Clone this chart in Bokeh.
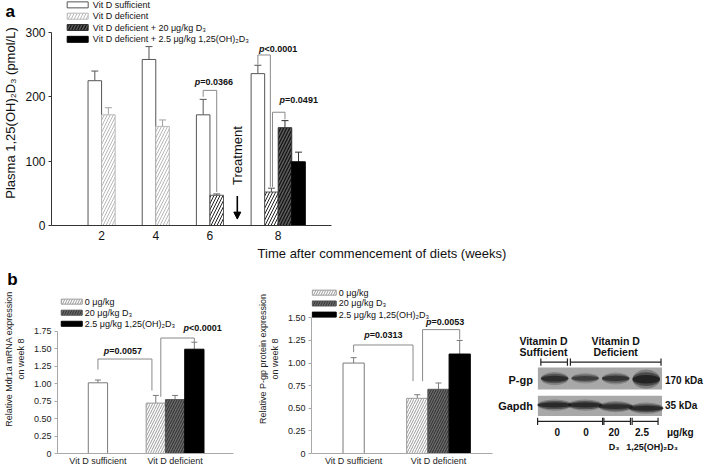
import math
from bokeh.plotting import figure
from bokeh.layouts import column, row
from bokeh.models import (Range1d, FixedTicker, Whisker, TeeHead, Arrow, NormalHead,
                          ColumnDataSource, GridBox)
from bokeh.core.properties import value
from bokeh.embed import file_html
from bokeh.resources import INLINE

# ------------------------------------------------------------------ data
# panel a : plasma 1,25(OH)2D3 (pmol/L) by week
week_labels = ["2", "4", "6", "8"]
series_a = ["Vit D sufficient", "Vit D deficient",
            "Vit D deficient + 20 \u03bcg/kg  D\u2083",
            "Vit D deficient + 2.5 \u03bcg/kg 1,25(OH)\u2082D\u2083"]
suff_a = [225, 258, 172, 236]
suff_a_err = [15, 20, 24, 13]
def_a = [172, 154, 47, 52]
def_a_err = [11, 10, 2, 6]
d3_a = [152]            # week 8 only
d3_a_err = [11]
calc_a = [99]           # week 8 only
calc_a_err = [15]
yticks_a = [0, 100, 200, 300]
pvals_a = ["=0.0366", "<0.0001", "=0.0491"]
brk_a_top = [210, 265, 176]
brk_a_left = [200, 250, 60]
brk_a_right = [52, 60, 165]

# panel b : week 8 expression
groups_b = ["Vit D sufficient", "Vit D deficient"]
series_b = ["0 \u03bcg/kg", "20 \u03bcg/kg D\u2083", "2.5 \u03bcg/kg 1,25(OH)\u2082D\u2083"]
mdr_suff = [1.01]
mdr_suff_err = [0.04]
mdr_def = [0.72, 0.77, 1.49]
mdr_def_err = [0.11, 0.06, 0.10]
yticks_mdr = [0, 0.25, 0.5, 0.75, 1.0, 1.25, 1.5, 1.75]
pvals_mdr = ["=0.0057", "<0.0001"]
brk_mdr_top = [1.35, 1.65]
brk_mdr_left = [1.20, 0.81]
brk_mdr_right = [0.90, 1.57]

pgp_suff = [1.00]
pgp_suff_err = [0.06]
pgp_def = [0.61, 0.71, 1.10]
pgp_def_err = [0.04, 0.07, 0.15]
yticks_pgp = [0, 0.25, 0.5, 0.75, 1.0, 1.25, 1.5]
pvals_pgp = ["=0.0313", "=0.0053"]
brk_pgp_top = [1.20, 1.37]
brk_pgp_left = [1.12, 0.80]
brk_pgp_right = [0.80, 1.26]

# western blot
lane_labels = ["0", "0", "20", "2.5"]
pgp_band = [0.80, 0.62, 0.72, 0.95]
pgp_thick = [1.0, 0.8, 0.9, 1.45]
gapdh_band = [0.85, 0.85, 0.80, 0.85]

panel_letters = ["a", "b"]

# ------------------------------------------------------------------ layout
FONT = "Liberation Sans"
S = 0.985
W_TOTAL, H_TOTAL = 712, 468
HA = 264
HB = H_TOTAL - HA
W1, W2 = 254, 243
W3 = W_TOTAL - W1 - W2

BOLD_W = {c: 0.556 for c in "0123456789"}
BOLD_W.update({"=": 0.584, "<": 0.584, ".": 0.278})


def base_fig(width, height, xr, yr, left, bottom):
    p = figure(width=width, height=height, x_range=xr, y_range=yr,
               output_backend="svg", toolbar_location=None,
               min_border_left=left, min_border_bottom=bottom,
               min_border_top=0, min_border_right=0)
    p.outline_line_color = None
    p.xgrid.visible = False
    p.ygrid.visible = False
    p.background_fill_color = "white"
    p.border_fill_color = "white"
    return p


def style_axis(ax, color, lab_color, size, tick_out):
    ax.axis_line_color = color
    ax.major_tick_line_color = color
    ax.major_tick_out = tick_out
    ax.major_tick_in = 0
    ax.minor_tick_line_color = None
    ax.major_label_text_font = FONT
    ax.major_label_text_font_size = size
    ax.major_label_text_color = lab_color
    ax.axis_label_text_font = FONT
    ax.axis_label_text_font_style = "normal"
    ax.axis_label_text_color = lab_color


def p_label(p, x, y, rest, size, dx=0, dy=0, color="#111111"):
    wp = 0.611 * size
    wr = sum(BOLD_W.get(c, 0.556) for c in rest) * size
    shift = dx - (wr - wp) / 2
    common = dict(text_baseline="middle", text_font=value(FONT),
                  text_font_size=f"{size}px", text_color=color,
                  x_offset=shift, y_offset=dy)
    p.text(x=[x], y=[y], text=["p"], text_align="right",
           text_font_style="bold italic", **common)
    p.text(x=[x], y=[y], text=[rest], text_align="left",
           text_font_style="bold", **common)


def add_whisker(p, xs, tops, errs, color, cap=7):
    src = ColumnDataSource(dict(base=xs, lower=tops,
                                upper=[t + e for t, e in zip(tops, errs)]))
    w = Whisker(source=src, base="base", lower="lower", upper="upper",
                dimension="height", line_color=color, line_width=1,
                lower_head=None,
                upper_head=TeeHead(size=cap, line_color=color, line_width=1))
    p.add_layout(w)


def bracket(p, x0, x1, yl, yt, yr, color):
    p.line(x=[x0, x0, x1, x1], y=[yl, yt, yt, yr], line_color=color, line_width=1)


def manual_legend(p, xg, xt, ys, labels, styles, gw, gh, size):
    for y, lab, st in zip(ys, labels, styles):
        p.rect(x=[xg], y=[y], width=gw, height=gh, width_units="screen",
               height_units="screen", **st)
        p.text(x=[xt], y=[y], text=[lab], text_align="left", text_baseline="middle",
               text_font=value(FONT), text_font_size=size, text_color="#111111")


# ------------------------------------------------------------------ panel a
PXU_A = 55.5          # reference px per x unit
PXV_A = 0.6533        # reference px per pmol/L
REF0_A = 228          # reference y of value 0
LA, BA = 45, 39
pos_a = [1.0, 2.0, 3.0, 4.26]
xa_start = pos_a[0] - (97 - LA / S) / PXU_A
xa_end = xa_start + (W_TOTAL - LA) / S / PXU_A
ya_end = (HA - BA) / S / PXV_A
pa = base_fig(W_TOTAL, HA, Range1d(xa_start, xa_end), Range1d(0, ya_end), LA, BA)


def ax_a(ref_x):
    return pos_a[0] + (ref_x - 97) / PXU_A


def ay_a(ref_y):
    return (REF0_A - ref_y) / PXV_A


BW = 0.25
off2 = [-BW / 2, BW / 2]
off4 = [-1.5 * BW, -0.5 * BW, 0.5 * BW, 1.5 * BW]
x_suff = [pos_a[i] + off2[0] for i in range(3)] + [pos_a[3] + off4[0]]
x_def = [pos_a[i] + off2[1] for i in range(3)] + [pos_a[3] + off4[1]]
x_d3 = [pos_a[3] + off4[2]]
x_calc = [pos_a[3] + off4[3]]

ST_SUFF = dict(fill_color="white", line_color="#555555", line_width=1)
ST_DEF_LIGHT = dict(fill_color="white", line_color="#b8b8b8", hatch_pattern="/",
                    hatch_color="#b8b8b8", hatch_scale=6, hatch_weight=1)
ST_D3 = dict(fill_color="#5a5a5a", line_color="#333333", hatch_pattern="/",
             hatch_color="#111111", hatch_scale=6, hatch_weight=1.2)
ST_CALC = dict(fill_color="black", line_color="black")

pa.vbar(x=x_suff, top=suff_a, width=BW, **ST_SUFF)
def_src = ColumnDataSource(dict(x=x_def, top=def_a,
                                hc=["#b8b8b8", "#b8b8b8", "#222222", "#222222"],
                                lc=["#b8b8b8", "#b8b8b8", "#555555", "#555555"]))
pa.vbar(x="x", top="top", width=BW, source=def_src, fill_color="white",
        line_color="lc", hatch_pattern="/", hatch_color="hc",
        hatch_scale=6, hatch_weight=1)
pa.vbar(x=x_d3, top=d3_a, width=BW, **ST_D3)
pa.vbar(x=x_calc, top=calc_a, width=BW, **ST_CALC)

add_whisker(pa, x_suff, suff_a, suff_a_err, "#555555")
add_whisker(pa, x_def[:2], def_a[:2], def_a_err[:2], "#a0a0a0")
add_whisker(pa, x_def[2:], def_a[2:], def_a_err[2:], "#555555")
add_whisker(pa, x_d3, d3_a, d3_a_err, "#333333")
add_whisker(pa, x_calc, calc_a, calc_a_err, "#333333")

bx = [(x_suff[2], x_def[2]), (x_suff[3], x_def[3] - 0.02), (x_def[3] + 0.02, x_d3[0])]
pdx = [4, 14, 20]
pdy = [-8, -6, -12]
for i in range(3):
    bracket(pa, bx[i][0], bx[i][1], brk_a_left[i], brk_a_top[i], brk_a_right[i], "#8a8a8a")
    p_label(pa, (bx[i][0] + bx[i][1]) / 2, brk_a_top[i], pvals_a[i], 9,
            dx=pdx[i], dy=pdy[i])

xt = ((x_def[2] + BW / 2) + (x_suff[3] - BW / 2)) / 2
pa.add_layout(Arrow(end=NormalHead(size=7, fill_color="black", line_color="black"),
                    x_start=xt, y_start=ay_a(198), x_end=xt, y_end=ay_a(221.5),
                    line_color="black", line_width=1.6))
pa.text(x=[xt], y=[ay_a(157)], text=["Treatment"], angle=math.pi / 2,
        text_align="center", text_baseline="middle", text_font=value(FONT),
        text_font_size="13px", text_color="#111111")

xa = pa.xaxis[0]
style_axis(xa, "#333333", "#111111", "12px", 0)
xa.ticker = FixedTicker(ticks=pos_a)
xa.major_label_overrides = {p: l for p, l in zip(pos_a, week_labels)}
xa.bounds = (xa_start, ax_a(333))
xa.major_label_standoff = 5
xa.axis_label = "Time after commencement of diets (weeks)"
xa.axis_label_text_font_size = "13px"
xa.axis_label_standoff = 3

ya = pa.yaxis[0]
style_axis(ya, "#333333", "#111111", "12px", 3)
ya.ticker = FixedTicker(ticks=yticks_a)
ya.bounds = (0, 300)
ya.major_label_standoff = 3
ya.axis_label = "Plasma 1,25(OH)\u2082D\u2083 (pmol/L)"
ya.axis_label_text_font_size = "13px"
ya.axis_label_standoff = 4

manual_legend(pa, ax_a(72.5), ax_a(88), [ay_a(v) for v in (4, 15.5, 27, 39)],
              series_a, [ST_SUFF, ST_DEF_LIGHT, ST_D3, ST_CALC], 21, 6, "9px")


# ------------------------------------------------------------------ panel b charts
ST_B_SUFF = dict(fill_color="white", line_color="#7a7a7a", line_width=1)
ST_B0 = dict(fill_color="white", line_color="#9a9a9a", hatch_pattern="/",
             hatch_color="#9a9a9a", hatch_scale=5, hatch_weight=1)
ST_B1 = dict(fill_color="#6a6a6a", line_color="#555555", hatch_pattern="/",
             hatch_color="#2e2e2e", hatch_scale=5, hatch_weight=1)
ST_B2 = dict(fill_color="black", line_color="black")


def panel_b(width, origin, left, bottom, pxu, ref_pos1, ref0, ppu, suff, suff_err,
            defv, def_err, yticks, ylabel, brk_top, brk_left, brk_right, pvals,
            bx_off, pdx, pdy, leg_xg, leg_xt, leg_rows, glyph_w, axis_end_ref):
    x_start = 1 - (ref_pos1 - origin - left / S) / pxu
    x_end = x_start + (width - left) / S / pxu
    y_end = (HB - bottom) / S / ppu
    p = base_fig(width, HB, Range1d(x_start, x_end), Range1d(0, y_end), left, bottom)

    def bx_(ref_x):
        return 1 + (ref_x - ref_pos1) / pxu

    def by_(ref_y):
        return (ref0 - ref_y) / ppu

    pos = [1.0, 2.0]
    offs = [-BW, 0.0, BW]
    xd = [pos[1] + o for o in offs]
    p.vbar(x=[pos[0]], top=suff, width=BW, **ST_B_SUFF)
    p.vbar(x=[xd[0]], top=[defv[0]], width=BW, **ST_B0)
    p.vbar(x=[xd[1]], top=[defv[1]], width=BW, **ST_B1)
    p.vbar(x=[xd[2]], top=[defv[2]], width=BW, **ST_B2)
    add_whisker(p, [pos[0]], suff, suff_err, "#7a7a7a", cap=6)
    add_whisker(p, xd, defv, def_err, "#7a7a7a", cap=6)
    bxs = [(pos[0], xd[0] + bx_off[0]), (xd[0] + bx_off[1], xd[2])]
    for i in range(2):
        bracket(p, bxs[i][0], bxs[i][1], brk_left[i], brk_top[i], brk_right[i], "#8a8a8a")
        p_label(p, (bxs[i][0] + bxs[i][1]) / 2, brk_top[i], pvals[i], 9,
                dx=pdx[i], dy=pdy[i])
    xa = p.xaxis[0]
    style_axis(xa, "#a8a8a8", "#222222", "9px", 0)
    xa.ticker = FixedTicker(ticks=pos)
    xa.major_label_overrides = {q: l for q, l in zip(pos, groups_b)}
    xa.bounds = (x_start, bx_(axis_end_ref))
    xa.major_label_standoff = 2
    ya = p.yaxis[0]
    style_axis(ya, "#a8a8a8", "#222222", "9px", 3)
    ya.ticker = FixedTicker(ticks=yticks)
    ya.major_label_overrides = {t: ("0" if t == 0 else f"{t:.2f}") for t in yticks}
    ya.bounds = (0, yticks[-1])
    ya.major_label_standoff = 3
    ya.axis_label = ylabel
    ya.axis_label_text_font_size = "9px"
    ya.axis_label_standoff = 5
    manual_legend(p, bx_(leg_xg), bx_(leg_xt), [by_(v) for v in leg_rows],
                  series_b, [ST_B0, ST_B1, ST_B2], glyph_w, 5, "9px")
    return p


pb1 = panel_b(W1, 0, 54, 14, 79.5, 96.5, 460.7, 71.43, mdr_suff, mdr_suff_err,
              mdr_def, mdr_def_err, yticks_mdr,
              "Relative Mdr1a mRNA expression\non week 8",
              brk_mdr_top, brk_mdr_left, brk_mdr_right, pvals_mdr,
              (-0.05, 0.065), (-2, 25), (-8, -10),
              69.5, 83, (305.7, 317, 328.3), 21, 236.7)
pb2 = panel_b(W2, 258, 53, 15, 88.0, 355.5, 460.0, 91.8, pgp_suff, pgp_suff_err,
              pgp_def, pgp_def_err, yticks_pgp,
              "Relative P-gp protein expression\non week 8",
              brk_pgp_top, brk_pgp_left, brk_pgp_right, pvals_pgp,
              (-0.05, 0.0625), (0, 4), (-10, -8),
              325, 340, (296.7, 307.7, 319), 24, 500.0)

# ------------------------------------------------------------------ western blot
LANE_PX = 31.0     # reference px per lane
ROW_PX = 29.0      # reference px per row unit


def lx(ref_x):
    return 1 + (ref_x - 563) / LANE_PX


def ly(ref_y):
    return (422 - ref_y) / ROW_PX


bx0 = lx(505)
bx1 = bx0 + W3 / S / LANE_PX
pbl = base_fig(W3, HB, Range1d(bx0, bx1), Range1d(ly(268 + HB / S), ly(268)), 0, 0)
pbl.min_border = 0
pbl.xaxis.visible = False
pbl.yaxis.visible = False
lanes = [1, 2, 3, 4]
y_pgp, y_gapdh = ly(393), ly(422)
bl, br = lx(546), lx(672)
pbl.quad(left=[bl, bl], right=[br, br], bottom=[ly(405), ly(434)],
         top=[ly(381), ly(411.7)], fill_color="#a8a8a8", line_color=None)
for h, a in [(0.50, 0.30), (0.36, 0.55), (0.22, 0.85)]:
    pbl.ellipse(x=lanes, y=[y_pgp - 0.05 * (t - 1) for t in pgp_thick], width=0.9,
                height=[h * t for t in pgp_thick], fill_color="#1a1a1a",
                fill_alpha=[a * v for v in pgp_band], line_color=None)
    pbl.ellipse(x=lanes, y=[y_gapdh, y_gapdh, y_gapdh - 0.06, y_gapdh - 0.12],
                width=1.12, height=h * 0.85, fill_color="#1a1a1a",
                fill_alpha=[a * v for v in gapdh_band], line_color=None)

tk = dict(text_font=value(FONT), text_font_style="bold", text_color="#111111",
          text_baseline="middle")
pbl.text(x=[lx(541)] * 2, y=[ly(395), ly(423)], text=["P-gp", "Gapdh"],
         text_align="right", text_font_size="11px", **tk)
pbl.text(x=[lx(675)] * 2, y=[ly(395), ly(423)], text=["170 kDa", "35 kDa"],
         text_align="left", text_font_size="10px", **tk)
pbl.text(x=[lx(551.7), lx(551.7), lx(625), lx(625)],
         y=[ly(351.7), ly(364), ly(351.7), ly(364)],
         text=["Vitamin D", "Sufficient", "Vitamin D", "Deficient"],
         text_align="center", text_font_size="10.5px", **tk)
seg_top = [(549, 576), (579, 671)]
seg_bot = [(545.7, 611.7), (613, 640), (641.7, 668)]
tick_h = 4 / ROW_PX
for (a0, a1), yy in [(s, ly(375)) for s in seg_top] + [(s, ly(440)) for s in seg_bot]:
    x0, x1 = lx(a0), lx(a1)
    pbl.segment(x0=[x0, x0, x1], y0=[yy, yy - tick_h, yy - tick_h],
                x1=[x1, x0, x1], y1=[yy, yy + tick_h, yy + tick_h],
                line_color="#222222", line_width=1.2)
pbl.text(x=[lx(565.7), lx(595), lx(623.3), lx(651.7)], y=[ly(451.7)] * 4,
         text=lane_labels, text_align="center", text_font_size="10px", **tk)
pbl.text(x=[lx(677)], y=[ly(451.7)], text=["\u03bcg/kg"], text_align="left",
         text_font_size="10px", **tk)
pbl.text(x=[lx(623.3), lx(662)], y=[ly(468)] * 2,
         text=["D\u2083", "1,25(OH)\u2082D\u2083"], text_align="center",
         text_font_size="9px", **tk)

# ------------------------------------------------------------------ transparent overlay for panel letters
ov = figure(width=W_TOTAL, height=H_TOTAL, x_range=Range1d(0, W_TOTAL / S),
            y_range=Range1d(H_TOTAL / S, 0), output_backend="svg",
            toolbar_location=None, min_border=0,
            x_axis_location=None, y_axis_location=None)
ov.grid.visible = False
ov.outline_line_color = None
ov.background_fill_color = None
ov.border_fill_color = None
ov.text(x=[10, 12], y=[11, 283], text=panel_letters, text_align="center",
        text_baseline="middle", text_font=value(FONT), text_font_size="17px",
        text_font_style="bold", text_color="black")

# wrappers keep the grid from aligning the plot frames to each other
top_box = column(pa)
bottom_box = row(pb1, pb2, pbl)
over_box = column(ov)
layout = GridBox(children=[(top_box, 0, 0), (bottom_box, 1, 0), (over_box, 0, 0, 2, 1)])
open("out.html", "w").write(file_html(layout, INLINE))
